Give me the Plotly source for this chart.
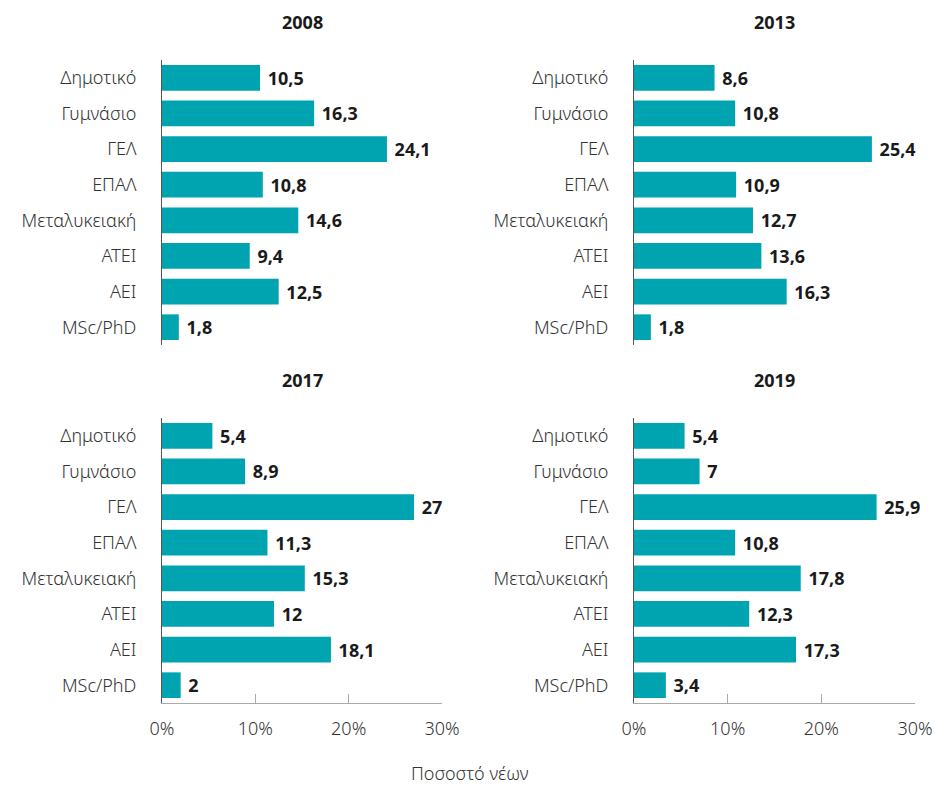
import plotly.graph_objects as go

categories = ["Δημοτικό", "Γυμνάσιο", "ΓΕΛ", "ΕΠΑΛ", "Μεταλυκειακή", "ΑΤΕΙ", "ΑΕΙ", "MSc/PhD"]
years = ["2008", "2013", "2017", "2019"]
v2008 = [10.5, 16.3, 24.1, 10.8, 14.6, 9.4, 12.5, 1.8]
v2013 = [8.6, 10.8, 25.4, 10.9, 12.7, 13.6, 16.3, 1.8]
v2017 = [5.4, 8.9, 27, 11.3, 15.3, 12, 18.1, 2]
v2019 = [5.4, 7, 25.9, 10.8, 17.8, 12.3, 17.3, 3.4]
x_ticks = [0, 10, 20, 30]
x_tick_labels = ["0%", "10%", "20%", "30%"]
axis_title = "Ποσοστό νέων"

series = [v2008, v2013, v2017, v2019]
W, H = 935, 785
FONT = "Noto Sans"
BAR = "#00a4b0"

def px_x(p):
    return p / W

def px_y(p):
    return 1 - p / H

xdom = [(px_x(162), px_x(442)), (px_x(634), px_x(915))]
ydom = [(px_y(345), px_y(60)), (px_y(703), px_y(418))]

def fmt(v):
    return " " + ("%g" % v).replace(".", ",")

fig = go.Figure()
layout = dict(
    width=W, height=H,
    margin=dict(l=0, r=0, t=0, b=0, autoexpand=False),
    paper_bgcolor="white", plot_bgcolor="white",
    showlegend=False,
    font=dict(family=FONT, size=17, color="#333"),
    annotations=[],
)

for i, (yr, vals) in enumerate(zip(years, series)):
    row, col = divmod(i, 2)
    xa = "x" if i == 0 else f"x{i+1}"
    ya = "y" if i == 0 else f"y{i+1}"
    fig.add_trace(go.Bar(
        x=vals, y=categories, orientation="h",
        marker=dict(color=BAR, line=dict(width=0)),
        width=0.72,
        text=[fmt(v) for v in vals], textposition="outside",
        textfont=dict(family=FONT, size=18, color="#1a1a1a", weight="bold"),
        cliponaxis=False,
        xaxis=xa, yaxis=ya,
    ))
    bottom = row == 1
    layout["xaxis" if i == 0 else f"xaxis{i+1}"] = dict(
        domain=list(xdom[col]), anchor=ya, range=[0, 30],
        tickvals=x_ticks, ticktext=x_tick_labels,
        showticklabels=bottom, showline=bottom, linecolor="#aaa", linewidth=1,
        ticks="inside" if bottom else "", ticklen=9, tickcolor="#aaa",
        ticklabelstandoff=9, automargin=False,
        showgrid=False, zeroline=False,
        tickfont=dict(family=FONT, size=18, color="#333", weight=300),
        fixedrange=True,
    )
    layout["yaxis" if i == 0 else f"yaxis{i+1}"] = dict(
        domain=list(ydom[row]), anchor=xa,
        categoryorder="array", categoryarray=categories,
        autorange="reversed",
        showline=True, linecolor="#555", linewidth=1,
        ticks="", ticklabelstandoff=21, automargin=False,
        showgrid=False, zeroline=False,
        tickfont=dict(family=FONT, size=18, color="#333", weight=300),
    )
    cx = (xdom[col][0] + xdom[col][1]) / 2
    ty = 22 if row == 0 else 380
    layout["annotations"].append(dict(
        text=f"<b>{yr}</b>", x=cx, y=px_y(ty), xref="paper", yref="paper",
        showarrow=False, xanchor="center", yanchor="middle",
        font=dict(family=FONT, size=18, color="#1a1a1a"),
    ))

layout["annotations"].append(dict(
    text=axis_title, x=px_x(470), y=px_y(773), xref="paper", yref="paper",
    showarrow=False, xanchor="center", yanchor="middle",
    font=dict(family=FONT, size=18, color="#333", weight=300),
))

fig.update_layout(**layout)
fig.write_html(
    "out.html",
    config={"displayModeBar": False},
    post_script="document.body.style.margin='0';document.body.style.overflow='hidden';",
)
